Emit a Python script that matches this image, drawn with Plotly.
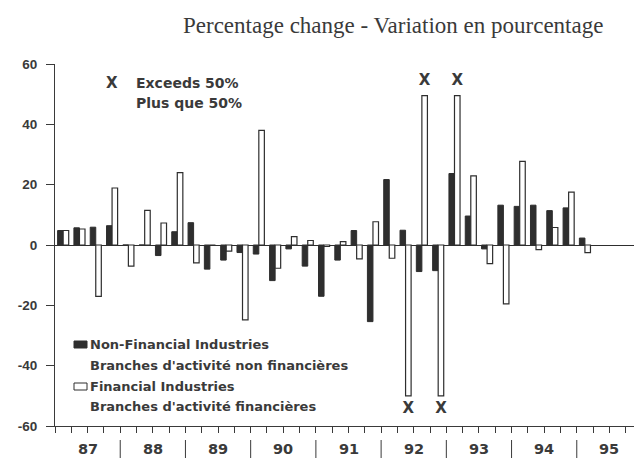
import plotly.graph_objects as go

years = ["87", "88", "89", "90", "91", "92", "93", "94", "95"]

# quarterly % change, 1987Q1 .. 1995Q1 (values beyond +/-50 drawn at the cap)
non_financial = [4.8, 5.7, 5.9, 6.4,
                 0.0, 0.0, -3.5, 4.4,
                 7.4, -8.0, -5.0, -2.5,
                 -3.0, -11.8, -1.3, -7.0,
                 -17.0, -5.0, 4.8, -25.4,
                 21.7, 4.9, -8.8, -8.5,
                 23.7, 9.6, -1.3, 13.2,
                 12.8, 13.2, 11.4, 12.3,
                 2.3]
financial = [4.8, 5.3, -17.0, 18.9,
             -7.0, 11.5, 7.3, 24.0,
             -5.9, 0.0, -2.0, -24.8,
             38.0, -7.7, 2.8, 1.5,
             -0.5, 1.1, -4.6, 7.7,
             -4.4, -50.0, 49.5, -50.0,
             49.5, 22.9, -6.2, -19.5,
             27.7, -1.5, 5.8, 17.5,
             -2.5]
exceeds = [21, 22, 23, 24]  # quarters where the financial bar goes past 50%
y_ticks = [-60, -40, -20, 0, 20, 40, 60]

quarters = list(range(len(non_financial)))
n_slots = len(years) * 4
ink = "#2e2e2e"
txt = "#3a3a3a"
sans = "DejaVu Sans"
bargap = 0.32

fig = go.Figure()
fig.add_trace(go.Bar(x=quarters, y=non_financial, name="Non-Financial",
                     marker=dict(color=ink, line=dict(color=ink, width=1))))
fig.add_trace(go.Bar(x=quarters, y=financial, name="Financial",
                     marker=dict(color="white", line=dict(color=ink, width=1.2))))

# "X" flags on the capped bars
off = (1 - bargap) / 4
fig.add_trace(go.Scatter(
    x=[q + off for q in exceeds],
    y=[54.3 if financial[q] > 0 else -54.6 for q in exceeds],
    mode="text", text=["X"] * len(exceeds),
    textfont=dict(family=sans, size=15, color=txt, weight="bold"),
    textposition="middle center"))

# page has an 8px body margin, so the figure is 8px smaller than the window
fig.update_layout(
    width=634, height=453,
    margin=dict(l=47, r=0, t=56, b=35),
    paper_bgcolor="white", plot_bgcolor="white",
    showlegend=False, barmode="group", bargap=bargap, bargroupgap=0,
    xaxis=dict(range=[-0.5, n_slots - 0.5], tickvals=[i - 0.5 for i in range(n_slots + 1)],
               ticktext=[""] * (n_slots + 1), ticks="outside", ticklen=6, tickcolor=txt,
               tickwidth=1.2,
               showline=True, linecolor=txt, linewidth=1.2, showgrid=False, zeroline=False),
    yaxis=dict(range=[-60, 60], tickvals=y_ticks, ticktext=[str(v) for v in y_ticks],
               ticks="outside", ticklen=8, tickcolor=txt, ticklabelstandoff=6,
               tickfont=dict(family="Liberation Sans", size=13.5, color=txt, weight="bold"),
               showline=True, linecolor=txt, linewidth=1.2, showgrid=False,
               zeroline=True, zerolinecolor=ink, zerolinewidth=1.2),
)


def px_x(px):
    return (px - 55) / 587


def px_y(py):
    return (426 - py) / 362


def label(text, x, y, size, anchor="left", family=sans, weight="bold"):
    return dict(text=text, x=px_x(x), y=px_y(y), xanchor=anchor, yanchor="middle",
                xref="paper", yref="paper", showarrow=False,
                font=dict(family=family, size=size, color=txt, weight=weight))


annotations = [
    label("Percentage change - Variation en pourcentage", 605, 26, 23, "right",
          "Liberation Serif", "normal"),
    label("X", 112, 83, 15, "center"),
    label("Exceeds 50%", 134, 83, 14),
    label("Plus que 50%", 134, 103, 14),
    label("Non-Financial Industries", 88, 344, 13),
    label("Branches d'activité non financières", 88, 365, 13),
    label("Financial Industries", 88, 386, 13),
    label("Branches d'activité financières", 88, 406, 13),
]

# year labels under the quarter ticks
for k, yr in enumerate(years):
    annotations.append(dict(text=yr, x=4 * k + 1.5, y=px_y(449), xref="x", yref="paper",
                            showarrow=False, xanchor="center", yanchor="middle",
                            font=dict(family=sans, size=14.5, color=txt, weight="bold")))

shapes = []
for k in range(1, len(years)):
    shapes.append(dict(type="line", x0=4 * k - 0.5, x1=4 * k - 0.5, xref="x", yref="paper",
                       y0=px_y(440), y1=px_y(458), line=dict(color=txt, width=1)))
# legend swatches
shapes.append(dict(type="rect", xref="paper", yref="paper", x0=px_x(74), x1=px_x(87),
                   y0=px_y(348), y1=px_y(341), fillcolor=ink, line=dict(color=ink, width=1)))
shapes.append(dict(type="rect", xref="paper", yref="paper", x0=px_x(74), x1=px_x(87),
                   y0=px_y(390), y1=px_y(383), fillcolor="white", line=dict(color=ink, width=1)))

fig.update_layout(annotations=annotations, shapes=shapes)
fig.write_html("out.html")
